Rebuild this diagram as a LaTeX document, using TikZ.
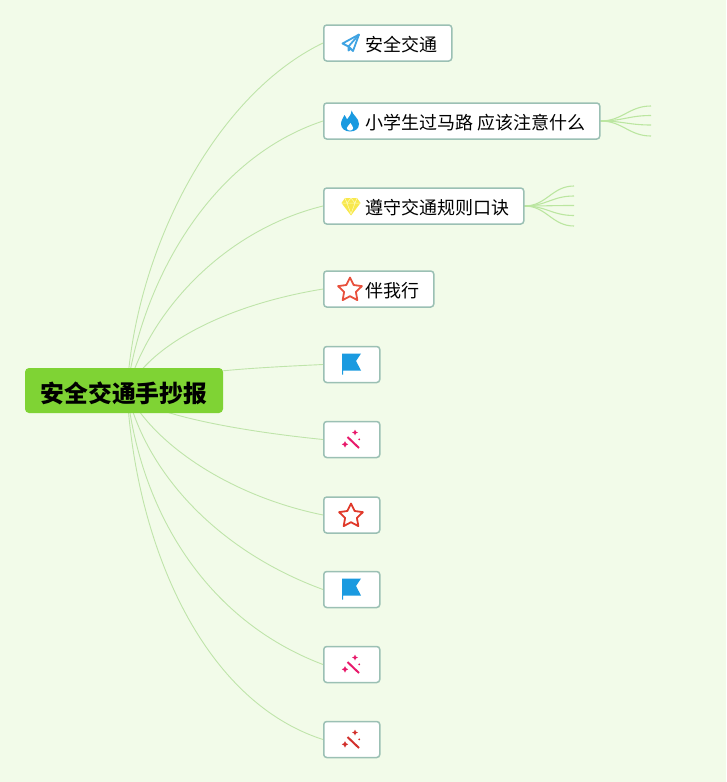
\documentclass[tikz,border=0pt]{standalone}
\usepackage{fontspec}
\setmainfont{Noto Sans CJK SC}
\usetikzlibrary{backgrounds}
\definecolor{pagegreen}{HTML}{F2FBE9}
\definecolor{rootgreen}{HTML}{7FD334}
\definecolor{spokegreen}{HTML}{BFE4AA}
\definecolor{fangreen}{HTML}{BBE6A0}
\definecolor{boxedge}{HTML}{9BC0B4}
\definecolor{flagblue}{HTML}{1A9AE0}
\definecolor{planeblue}{HTML}{3FA3E2}
\definecolor{gemyellow}{HTML}{F8E84C}
\definecolor{wandpink}{HTML}{E8196B}
\definecolor{wandred}{HTML}{D2302C}
\definecolor{starsalmon}{HTML}{E8503C}
\definecolor{starred}{HTML}{E0392A}
\tikzset{
	rootbox/.style={draw=none, fill=rootgreen, rounded corners=4, minimum width=198, minimum height=45, inner sep=0, text height=25, text depth=1.8, font=\fontsize{23.8}{23.8}\selectfont\bfseries},
	itembox/.style={draw=boxedge, line width=1.5, fill=white, rounded corners=3, anchor=west, minimum width=56, minimum height=36, inner xsep=14.5, inner ysep=0, text height=18, text depth=1.4, font=\fontsize{18}{18}\selectfont},
	spoke/.style={draw=spokegreen, line width=.9},
	fanline/.style={draw=fangreen, line width=1.1},
	flagicon/.pic={
		\fill[flagblue] (-9,-10.5) -- (10,-10.5) -- (5,-3) -- (10,6.5) -- (-8,6.5) -- (-8,10.5) -- (-9,10.5) -- cycle;
	},
	wandicon/.pic={
		\draw[#1, line width=2] (-3.5,-2.5) -- (8,8.5);
		\fill[#1] (-6,1.6) -- (-4.9,3.7) -- (-2.8,4.8) -- (-4.9,5.9) -- (-6,8) -- (-7.1,5.9) -- (-9.2,4.8) -- (-7.1,3.7) -- cycle;
		\fill[#1] (4,-10) -- (4.9,-7.9) -- (7,-7) -- (4.9,-6.1) -- (4,-4) -- (3.1,-6.1) -- (1,-7) -- (3.1,-7.9) -- cycle;
		\fill[#1] (8.2,-.2) circle[radius=1];
	},
	staricon/.pic={
		\draw[#1, line width=1.8, line join=round] (270:12.5) -- (306:6.2) -- (342:12.5) -- (18:6.2) -- (54:12.5) -- (90:6.2) -- (126:12.5) -- (162:6.2) -- (198:12.5) -- (234:6.2) -- cycle;
	},
}
\begin{document}
\begin{tikzpicture}[x=1pt, y=-1pt]
		\useasboundingbox (0, 0) rectangle (726, 782);
		\node[rootbox] (root) at (124, 390.5) {安全交通手抄报};
		\coordinate (hub) at (127, 391);
		\node[itembox] (safety) at (323, 43) {\hspace{27pt}安全交通};
		\node[itembox] (crossing) at (323, 121) {\hspace{27pt}小学生过马路 应该注意什么};
		\node[itembox] (rhyme) at (323, 206) {\hspace{27pt}遵守交通规则口诀};
		\node[itembox] (together) at (323, 289) {\hspace{27pt}伴我行};
		\node[itembox] (flagA) at (323, 364.5) {};
		\node[itembox] (wandA) at (323, 439.5) {};
		\node[itembox] (starA) at (323, 515) {};
		\node[itembox] (flagB) at (323, 589.5) {};
		\node[itembox] (wandB) at (323, 664.5) {};
		\node[itembox] (wandC) at (323, 739.5) {};
		% fans
		\foreach \y [count=\i] in {106, 115.5, 125, 136}
			\coordinate (crossing\i) at (651, \y);
		\foreach \y [count=\i] in {186, 196, 205.5, 215.5, 226}
			\coordinate (rhyme\i) at (574, \y);
		% icons
		\begin{scope}[shift={(safety.west)}, xshift=28]
			\draw[color=planeblue, line width=1.8, line join=round] (8, -8.5) -- (-8.5, .5) -- (-2.5, 3.5) -- (2, 8) -- cycle;
			\draw[color=planeblue, line width=1.8, line join=round] (8, -8.5) -- (-2.5, 3.5) -- (-2.5, 7.5) -- (0, 5.5);
		\end{scope}
		\begin{scope}[shift={(crossing.west)}, xshift=27]
			\fill[color=flagblue] (1.5, -10.5) .. controls (2.5, -6) and (9, -3) .. (9, 3) .. controls (9, 8) and (5, 10.5) .. (0, 10.5) .. controls (-5, 10.5) and (-9, 7.5) .. (-9, 3) .. controls (-9, -1) and (-6.5, -3) .. (-5.5, -6) .. controls (-4.5, -4.5) and (-3.5, -3) .. (-3, -1.5) .. controls (-1, -4) and (1.5, -7) .. (1.5, -10.5);
			\fill[color=white] (.5, 2) .. controls (1, 4) and (3.2, 5) .. (3.2, 7) .. controls (3.2, 8.8) and (1.5, 9.6) .. (0, 9.6) .. controls (-1.5, 9.6) and (-3.2, 8.8) .. (-3.2, 7) .. controls (-3.2, 5) and (0, 4) .. (.5, 2);
		\end{scope}
		\begin{scope}[shift={(rhyme.west)}, xshift=28]
			\fill[color=gemyellow] (-6, -8) -- (6, -8) -- (9.5, -3) -- (0, 9.5) -- (-9.5, -3) -- cycle;
			\draw[color=yellow!25, line width=.5] (-9.5, -3) -- (9.5, -3) (-4, -3) -- (0, 8) -- (4, -3) (-6, -8) -- (-4, -3) -- (0, -8) -- (4, -3) -- (6, -8);
		\end{scope}
		\path (together.west) ++(27, 1) pic {staricon=starsalmon};
		\path (flagA.west) ++(28, -.5) pic {flagicon};
		\path (wandA.west) ++(28, 0) pic {wandicon=wandpink};
		\path (starA.west) ++(28, 1) pic {staricon=starred};
		\path (flagB.west) ++(28, -.5) pic {flagicon};
		\path (wandB.west) ++(28, 0) pic {wandicon=wandpink};
		\path (wandC.west) ++(28, 0) pic {wandicon=wandred};
		\begin{pgfonlayer}{background}
			\fill[pagegreen] (0, 0) rectangle (726, 782);
			\foreach \kid/\ca/\cb in {safety/{135, 250}/{215, 95}, crossing/{140, 290}/{205, 160}, rhyme/{150, 310}/{225, 230}, together/{150, 345}/{225, 305}, flagA/{165, 372}/{250, 368}, wandA/{135, 408}/{210, 428}, starA/{150, 440}/{225, 495}, flagB/{145, 470}/{215, 550}, wandB/{140, 510}/{205, 620}, wandC/{135, 540}/{200, 700}}
				\draw[spoke] (hub) .. controls (\ca) and (\cb) .. (\kid.west);
			\foreach \i in {1, ..., 4}
				\draw[fanline] (crossing.east) .. controls +(22, 0) and ([xshift=-22]crossing\i) .. (crossing\i);
			\foreach \i in {1, ..., 5}
				\draw[fanline] (rhyme.east) .. controls +(22, 0) and ([xshift=-22]rhyme\i) .. (rhyme\i);
		\end{pgfonlayer}
\end{tikzpicture}
\end{document}
